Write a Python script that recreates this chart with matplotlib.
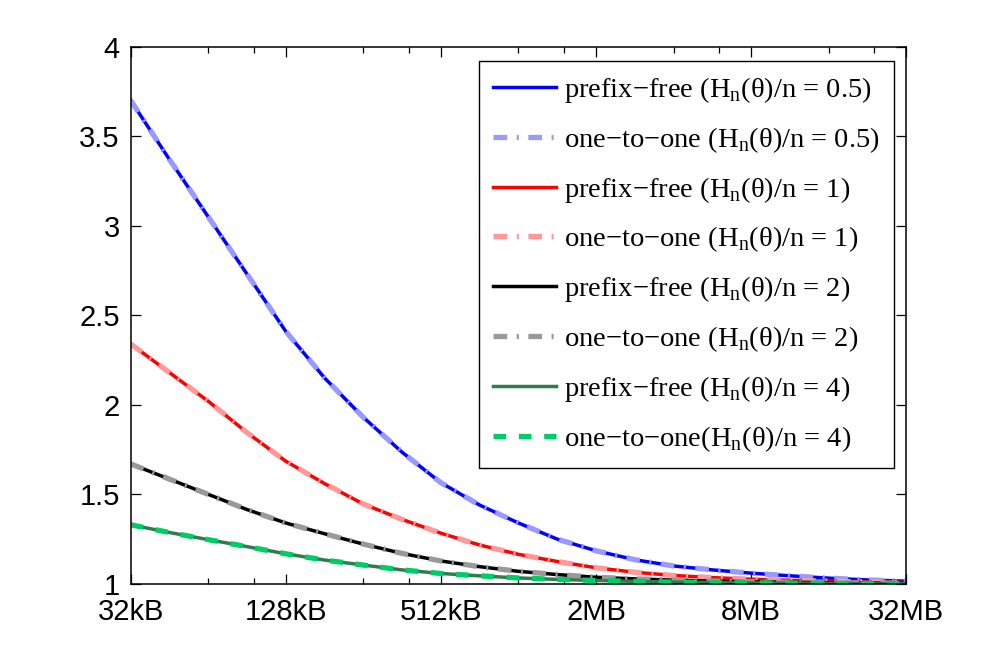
import numpy as np
import matplotlib
matplotlib.use("Agg")
import matplotlib.pyplot as plt
from matplotlib.ticker import FixedLocator, NullFormatter

# block size grid, in kB (half-octave steps from 32kB to 32MB)
size_kb = [32 * 2 ** (k / 2) for k in range(21)]

# normalised redundancy, one list per H_n(theta)/n
blue_05 = [3.70, 3.37, 3.05, 2.73, 2.41, 2.15, 1.93, 1.735, 1.565, 1.44, 1.34,
           1.25, 1.185, 1.135, 1.10, 1.078, 1.06, 1.045, 1.032, 1.022, 1.015]
red_1 = [2.34, 2.18, 2.02, 1.845, 1.685, 1.56, 1.446, 1.36, 1.283, 1.217, 1.165,
         1.125, 1.09, 1.065, 1.047, 1.035, 1.026, 1.02, 1.015, 1.011, 1.008]
black_2 = [1.67, 1.585, 1.50, 1.415, 1.34, 1.28, 1.222, 1.17, 1.128, 1.096, 1.07,
           1.052, 1.037, 1.028, 1.021, 1.016, 1.012, 1.009, 1.007, 1.005, 1.004]
green_4 = [1.33, 1.287, 1.247, 1.208, 1.168, 1.133, 1.105, 1.078, 1.058, 1.045, 1.033,
           1.025, 1.019, 1.014, 1.01, 1.008, 1.006, 1.004, 1.003, 1.002, 1.0015]

ratios = ["0.5", "1", "2", "4"]
x_ticks_kb = [32, 128, 512, 2048, 8192, 32768]
x_tick_labels = ["32kB", "128kB", "512kB", "2MB", "8MB", "32MB"]
y_ticks = [1, 1.5, 2, 2.5, 3, 3.5, 4]
y_tick_labels = ["1", "1.5", "2", "2.5", "3", "3.5", "4"]

fig = plt.figure(figsize=(9.98, 6.59), dpi=100)
ax = fig.add_axes([0.131, 0.114, 0.777, 0.815])

dashdot = (0, (2.6, 1.8, 0.4, 1.8))
series = [
    (blue_05, "#0000ff", "#9999ff", dashdot, "one\u2212to\u2212one (H$_\\mathregular{n}$(\u03b8)/n = 0.5)"),
    (red_1, "#ff0000", "#ff9999", dashdot, "one\u2212to\u2212one (H$_\\mathregular{n}$(\u03b8)/n = 1)"),
    (black_2, "#000000", "#999999", dashdot, "one\u2212to\u2212one (H$_\\mathregular{n}$(\u03b8)/n = 2)"),
    (green_4, "#2e7d50", "#00cc66", (0, (2.4, 2.4)), "one\u2212to\u2212one(H$_\\mathregular{n}$(\u03b8)/n = 4)"),
]
for (vals, c_solid, c_light, ls, lab2), r in zip(series, ratios):
    ax.plot(size_kb, vals, color=c_solid, lw=2.5,
            label="prefix\u2212free (H$_\\mathregular{n}$(\u03b8)/n = %s)" % r)
    ax.plot(size_kb, vals, color=c_light, lw=3.8, linestyle=ls, label=lab2)

ax.set_xscale("log", base=2)
ax.set_xlim(32, 32768)
ax.set_ylim(1, 4)
ax.xaxis.set_major_locator(FixedLocator(x_ticks_kb))
ax.set_xticklabels(x_tick_labels)
minor = []
for t in x_ticks_kb[:-1]:
    minor += [2 * t, 3 * t]
ax.xaxis.set_minor_locator(FixedLocator(minor))
ax.xaxis.set_minor_formatter(NullFormatter())
ax.set_yticks(y_ticks)
ax.set_yticklabels(y_tick_labels)
ax.yaxis.set_minor_locator(FixedLocator([]))

ax.tick_params(which="both", direction="in", top=True, right=True,
               labelsize=21, width=0.9)
ax.tick_params(axis="x", pad=10)
ax.tick_params(axis="y", pad=8)
ax.tick_params(which="major", length=7)
ax.tick_params(which="minor", length=4)
for lab in ax.get_xticklabels() + ax.get_yticklabels():
    lab.set_fontfamily("Liberation Sans")
for sp in ax.spines.values():
    sp.set_linewidth(1.1)

leg = ax.legend(loc="upper right", bbox_to_anchor=(0.9845, 0.974), borderaxespad=0,
                prop={"family": "Liberation Serif", "size": 20.5}, fancybox=False,
                framealpha=1, edgecolor="black", handlelength=2.2,
                handletextpad=0.3, labelspacing=0.70, borderpad=0.5)
leg.get_frame().set_linewidth(1.0)

fig.savefig("out.png", dpi=100)
